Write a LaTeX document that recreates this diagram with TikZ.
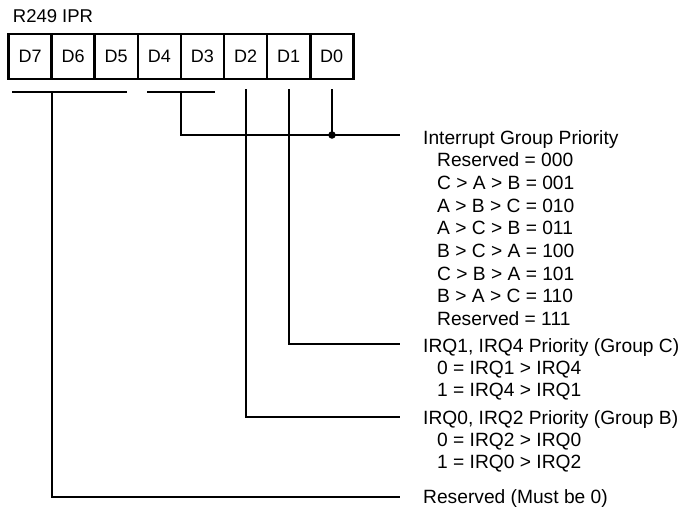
\documentclass[tikz,border=0pt]{standalone}
\usepackage{fontspec}
\setmainfont{Liberation Sans}
\begin{document}
\begin{tikzpicture}[x=1pt,y=-1pt,
  wire/.style={line width=2.4pt,line cap=rect},
  cell/.style={draw,line width=2.6pt,minimum width=43.1pt,minimum height=45pt,inner sep=0pt,outer sep=0pt,font=\fontsize{18}{21}\selectfont},
  lbl/.style={anchor=base west,inner sep=0pt,font=\fontsize{19.2}{22}\selectfont},
  dot/.style={circle,fill,inner sep=0pt,minimum size=7.5pt}]
\useasboundingbox (0,0) rectangle (696,512);
\node[lbl,font=\fontsize{18.5}{22}\selectfont] (title) at (12.7,22) {R249 IPR};
% register cells
\foreach \n [count=\i from 0] in {D7,D6,D5,D4,D3,D2,D1,D0}{
  \node[cell] (c\n) at ({8.5+43.1*\i+21.55},56.5) {\n};
}
% bars and connectors
\coordinate (b1l) at (13,92);
\coordinate (b1r) at (126,92);
\coordinate (b1m) at (52,92);
\coordinate (b2l) at (148,92);
\coordinate (b2r) at (214,92);
\coordinate (b2m) at (181,92);
\coordinate (t2) at (246,90);
\coordinate (t1) at (289,90);
\coordinate (t0) at (332,90);
\coordinate (j0) at (332,135);
\coordinate (e1) at (399,135);
\coordinate (e2) at (399,344);
\coordinate (e3) at (399,417);
\coordinate (e4) at (399,497);
\draw[wire] (b1l) -- (b1r);
\draw[wire] (b2l) -- (b2r);
\draw[wire] (b2m) |- (e1);
\draw[wire] (t0) -- (j0);
\node[dot] (jd) at (j0) {};
\draw[wire] (t1) |- (e2);
\draw[wire] (t2) |- (e3);
\draw[wire] (b1m) |- (e4);
% labels
\node[lbl] (g1) at (423,144) {Interrupt Group Priority};
\foreach \t [count=\i from 1] in {Reserved = 000,C > A > B = 001,A > B > C = 010,A > C > B = 011,B > C > A = 100,C > B > A = 101,B > A > C = 110,Reserved = 111}{
  \node[lbl] (g1s\i) at (437,{144+22.7*\i}) {\t};
}
\node[lbl] (g2) at (423,352.5) {IRQ1, IRQ4 Priority (Group C)};
\node[lbl] (g2a) at (437,374.5) {0 = IRQ1 > IRQ4};
\node[lbl] (g2b) at (437,396.5) {1 = IRQ4 > IRQ1};
\node[lbl] (g3) at (423,424.5) {IRQ0, IRQ2 Priority (Group B)};
\node[lbl] (g3a) at (437,446.5) {0 = IRQ2 > IRQ0};
\node[lbl] (g3b) at (437,468.5) {1 = IRQ0 > IRQ2};
\node[lbl] (g4) at (423,503.5) {Reserved (Must be 0)};
\end{tikzpicture}
\end{document}
